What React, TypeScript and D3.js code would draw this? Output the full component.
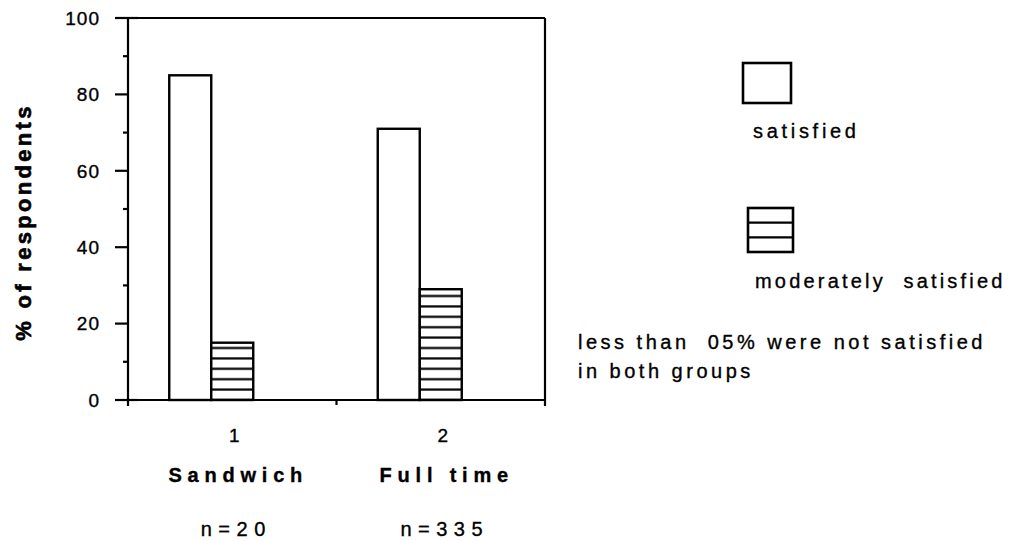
import React from 'react';
import * as d3 from 'd3';

// Chart data
const categories = ['1', '2'];
const groupNames = ['Sandwich', 'Full time'];
const sampleSizes = ['n=20', 'n=335'];
const seriesKeys = ['satisfied', 'moderate'];
const seriesLabels = ['satisfied', 'moderately  satisfied'];
const satisfiedValues = [85, 71];
const moderateValues = [15, 29];
const yTicks = [0, 20, 40, 60, 80, 100];
const yMinorTicks = [10, 30, 50, 70, 90];
const noteLines = ['less than  05% were not satisfied', 'in both groups'];

const FONT = '"Liberation Sans", Arial, Helvetica, sans-serif';

const App: React.FC = () => {
    const width = 1013;
    const height = 541;
    const plot = { left: 128, right: 545, top: 18, bottom: 400 };

    const y = d3.scaleLinear().domain([0, 100]).range([plot.bottom, plot.top]);
    const x = d3.scaleBand<string>().domain(categories).range([plot.left, plot.right]).padding(0);
    // bars sit left of the band centre in the original
    const xSub = d3.scaleBand<string>().domain(seriesKeys).range([-63, 21]).padding(0);

    const data = categories.map((c, i) => ({
        category: c,
        values: [
            { key: 'satisfied', value: satisfiedValues[i] },
            { key: 'moderate', value: moderateValues[i] }
        ]
    }));

    const center = (c: string) => (x(c) as number) + x.bandwidth() / 2;
    const hatchStep = 10.4;
    const ink = { fill: '#000', stroke: '#000', strokeWidth: 0.35 };

    return (
        <svg width={width} height={height} viewBox={`0 0 ${width} ${height}`}
            style={{ position: 'absolute', left: 0, top: 0, background: '#fff' }}>
            <defs>
                <pattern id="hatch" patternUnits="userSpaceOnUse" width={20} height={hatchStep}
                    patternTransform={`translate(0, ${plot.bottom - hatchStep / 2})`}>
                    <rect width={20} height={hatchStep} fill="#fff" />
                    <line x1={0} x2={20} y1={hatchStep / 2} y2={hatchStep / 2} stroke="#000" strokeWidth={2.2} />
                </pattern>
            </defs>
            <rect width={width} height={height} fill="#fff" />

            {/* bars */}
            {data.map(d => (
                <g key={d.category} transform={`translate(${center(d.category)},0)`}>
                    {d.values.map(v => (
                        <rect key={v.key}
                            x={xSub(v.key) as number}
                            y={y(v.value)}
                            width={xSub.bandwidth()}
                            height={plot.bottom - y(v.value)}
                            fill={v.key === 'moderate' ? 'url(#hatch)' : '#fff'}
                            stroke="#000" strokeWidth={2.4} />
                    ))}
                </g>
            ))}

            {/* frame */}
            <g stroke="#000" strokeWidth={2.2} fill="none">
                <line x1={plot.left} x2={plot.right} y1={plot.top} y2={plot.top} />
                <line x1={plot.right} x2={plot.right} y1={plot.top} y2={plot.bottom + 6} />
                <line x1={plot.left} x2={plot.left} y1={plot.top} y2={plot.bottom + 6} />
                <line x1={plot.left} x2={plot.right} y1={plot.bottom} y2={plot.bottom} />
                <line x1={plot.left + x.bandwidth()} x2={plot.left + x.bandwidth()} y1={plot.bottom} y2={plot.bottom + 5} />
                {yTicks.map(t => (
                    <line key={t} x1={plot.left - 13}
                        x2={t === 0 || t === 100 ? plot.left + 10 : plot.left}
                        y1={y(t)} y2={y(t)} />
                ))}
                {yMinorTicks.map(t => (
                    <line key={t} x1={plot.left - 5} x2={plot.left} y1={y(t)} y2={y(t)} />
                ))}
            </g>

            {/* y tick labels */}
            <g fontFamily={FONT} fontSize={19} textAnchor="end" letterSpacing={1} {...ink}>
                {yTicks.map(t => (
                    <text key={t} x={plot.left - 28} y={y(t)} dy="0.36em">{t}</text>
                ))}
            </g>

            {/* y axis label */}
            <text transform={`translate(31, 222) rotate(-90)`} textAnchor="middle"
                fontFamily={FONT} fontSize={22} fontWeight="bold" letterSpacing={3.3}
                fill="#000" stroke="#000" strokeWidth={0.6}>
                % of respondents
            </text>

            {/* category labels */}
            <g fontFamily={FONT} textAnchor="middle" {...ink}>
                {categories.map((c, i) => (
                    <g key={c}>
                        <text x={center(c) + 2} y={442} fontSize={19}>{c}</text>
                        <text x={center(c) + 6} y={482} fontSize={20} fontWeight="bold"
                            letterSpacing={5.8} xmlSpace="preserve">{groupNames[i]}</text>
                        <text x={center(c) + 4} y={536} fontSize={20} letterSpacing={6.5}>{sampleSizes[i]}</text>
                    </g>
                ))}
            </g>

            {/* legend */}
            <rect x={743} y={63} width={48} height={40} fill="#fff" stroke="#000" strokeWidth={2.6} />
            <rect x={748} y={208} width={45} height={44} fill="#fff" stroke="#000" strokeWidth={2.6} />
            {d3.range(1, 3).map(k => (
                <line key={k} x1={748} x2={793} y1={208 + (44 / 3) * k} y2={208 + (44 / 3) * k}
                    stroke="#000" strokeWidth={2.4} />
            ))}
            <g fontFamily={FONT} fontSize={20} {...ink}>
                <text x={753} y={138} letterSpacing={3.7} xmlSpace="preserve">{seriesLabels[0]}</text>
                <text x={755} y={288} letterSpacing={3.2} xmlSpace="preserve">{seriesLabels[1]}</text>
                {noteLines.map((line, i) => (
                    <text key={i} x={578} y={349 + i * 29} letterSpacing={3.5} xmlSpace="preserve">{line}</text>
                ))}
            </g>
        </svg>
    );
};

export default App;
